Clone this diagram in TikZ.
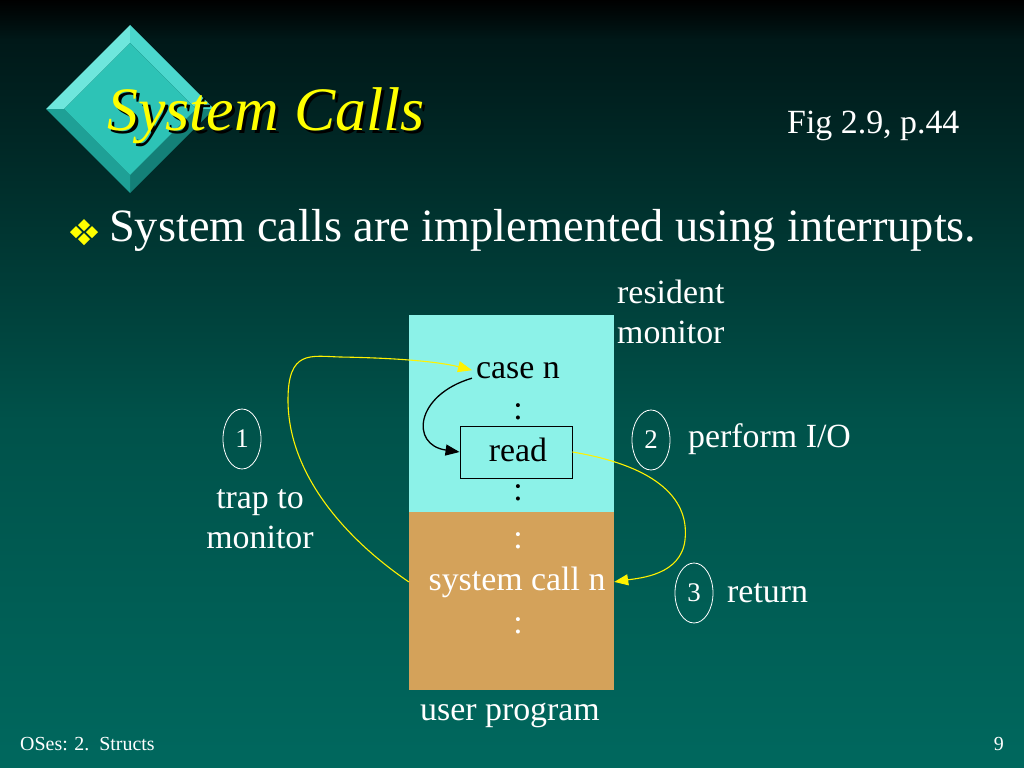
\documentclass[tikz,border=0pt]{standalone}
\usepackage{fontspec}
\setmainfont{Liberation Serif}
\usetikzlibrary{arrows.meta, shapes.geometric}

\definecolor{bgblack}{RGB}{0,0,0}
\definecolor{bgtop}{RGB}{0,24,24}
\definecolor{bgmid}{RGB}{0,82,74}
\definecolor{bgbot}{RGB}{0,104,94}
\definecolor{moncyan}{RGB}{140,242,232}
\definecolor{usertan}{RGB}{212,162,90}
\definecolor{gemface}{RGB}{45,195,182}
\definecolor{gemlight}{RGB}{110,230,220}
\definecolor{gemtop}{RGB}{75,215,205}
\definecolor{gemside}{RGB}{30,160,150}
\definecolor{gemdark}{RGB}{20,128,120}
\definecolor{titleyellow}{RGB}{255,255,0}

\begin{document}
\begin{tikzpicture}[x=1bp, y=-1bp,
    txt/.style={inner sep=0pt, text=white, font=\fontsize{34}{40}\selectfont},
    dark/.style={txt, text=black},
    numcircle/.style={draw=white, ellipse, thick, inner sep=0pt, minimum width=38bp,
        minimum height=60bp, text=white, font=\fontsize{27}{30}\selectfont},
    yarrow/.style={draw=yellow, line width=1.1pt, -{Triangle[length=14bp, width=11bp]}},
    karrow/.style={draw=black, line width=1.3pt, -{Triangle[length=14bp, width=11bp]}}]

    % background
    \useasboundingbox (0,0) rectangle (1024,768);
    \shade[top color=bgblack, bottom color=bgtop] (0,0) rectangle (1024,40);
    \shade[top color=bgtop, bottom color=bgmid] (0,40) rectangle (1024,420);
    \shade[top color=bgmid, bottom color=bgbot] (0,420) rectangle (1024,768);

    % logo
    \fill[gemlight] (46,109) -- (130,25) -- (130,43) -- (64,109) -- cycle;
    \fill[gemtop] (130,25) -- (214,109) -- (196,109) -- (130,43) -- cycle;
    \fill[gemdark] (214,109) -- (130,193) -- (130,175) -- (196,109) -- cycle;
    \fill[gemside] (130,193) -- (46,109) -- (64,109) -- (130,175) -- cycle;
    \fill[gemface] (130,43) -- (196,109) -- (130,175) -- (64,109) -- cycle;

    % title
    \node[inner sep=0pt, anchor=base west, text=black, font=\fontsize{62}{68}\selectfont\itshape]
        (titleshadow) at (110,133) {System Calls};
    \node[inner sep=0pt, anchor=base west, text=titleyellow, font=\fontsize{62}{68}\selectfont\itshape]
        (title) at (107,130) {System Calls};
    \node[txt, anchor=base west] (fig) at (787,133) {Fig 2.9, p.44};

    % bullet
    \foreach \bx/\by in {84/225, 76/232, 92/232, 84/239} {
        \fill[titleyellow] (\bx,\by-6) -- (\bx+6,\by) -- (\bx,\by+6) -- (\bx-6,\by) -- cycle;
    }
    \node[txt, anchor=base west, font=\fontsize{46.5}{52}\selectfont] (point) at (109,241)
        {System calls are implemented using interrupts.};

    % memory
    \node[fill=moncyan, minimum width=205bp, minimum height=197bp, inner sep=0pt] (mon) at (511.5,413.5) {};
    \node[fill=usertan, minimum width=205bp, minimum height=178bp, inner sep=0pt] (user) at (511.5,601) {};
    \node[txt, anchor=base west, align=left] (monname) at (617,343) {resident\\monitor};
    \node[txt, anchor=base] (username) at (510,720) {user program};

    \node[dark, anchor=base, inner sep=4pt] (casen) at (518,378) {case n};
    \node[dark, anchor=base] (dots1) at (518,419) {:};
    \node[dark, draw=black, line width=0.9pt, minimum width=112bp, minimum height=52bp] (read) at (516,452) {};
    \node[dark, anchor=base] (readtxt) at (518,461) {read};
    \node[dark, anchor=base] (dots2) at (518,500) {:};
    \node[txt, anchor=base] (dots3) at (518,548) {:};
    \node[txt, anchor=base] (sysn) at (517,590) {system call n};
    \node[txt, anchor=base] (dots4) at (518,633) {:};

    % steps
    \node[numcircle] (n1) at (242,439) {1};
    \node[txt, anchor=base, align=center] (trap) at (260,548) {trap to\\monitor};
    \node[numcircle] (n2) at (651,440) {2};
    \node[txt, anchor=base west] (perf) at (688,447) {perform I/O};
    \node[numcircle] (n3) at (694,593) {3};
    \node[txt, anchor=base west] (ret) at (727,602) {return};

    % arrows
    \coordinate (trapfrom) at (user.west |- sysn);
    \coordinate (retto) at (user.east |- sysn);
    \draw[yarrow] (trapfrom) .. controls (340,535) and (288,470) .. (288,400)
        .. controls (288,350) and (310,356) .. (340,357)
        .. controls (400,358) and (440,362) .. (casen.west);
    \draw[karrow] ([yshift=-8bp]casen.west) .. controls (415,395) and (410,445) .. (read.west);
    \draw[yarrow] (read.east) .. controls (650,465) and (690,495) .. (685,540)
        .. controls (681,575) and (640,578) .. (retto);

    % footer
    \node[txt, anchor=base west, font=\fontsize{20}{24}\selectfont] (foot) at (20,750) {OSes: 2.\ \ Structs};
    \node[txt, anchor=base east, font=\fontsize{20}{24}\selectfont] (page) at (1004,750) {9};
\end{tikzpicture}
\end{document}
